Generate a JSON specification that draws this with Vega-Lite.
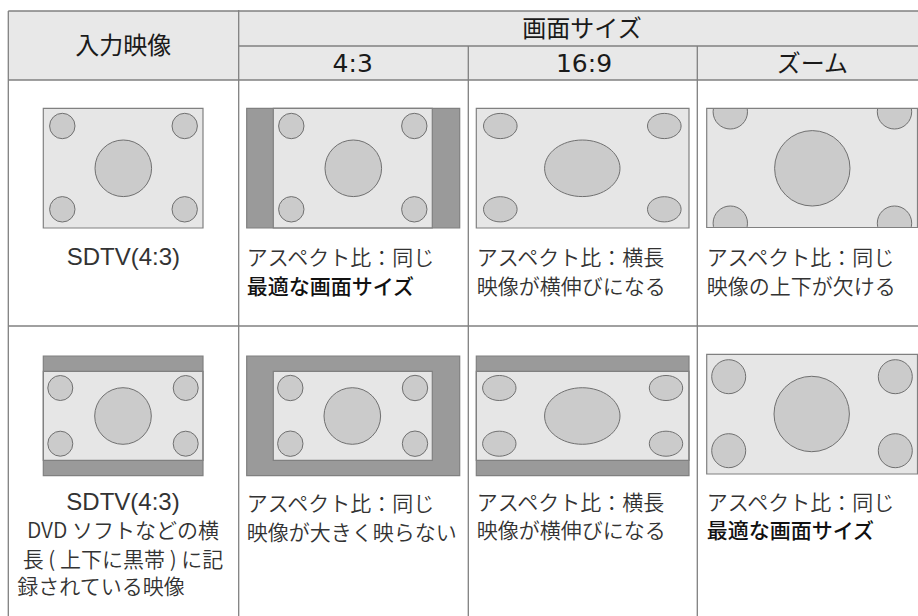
{
  "$schema": "https://vega.github.io/schema/vega-lite/v6.json",
  "width": 918,
  "height": 616,
  "autosize": {"type": "none"},
  "padding": 0,
  "background": "#ffffff",
  "config": {"view": {"stroke": null}},
  "datasets": {
    "panels": [
      {"x": 8.3, "x2": 918, "y": 11, "y2": 80, "kind": "header"},
      {"x": 43.3, "x2": 203, "y": 108.3, "y2": 228, "kind": "screen"},
      {"x": 246.7, "x2": 459.7, "y": 108.3, "y2": 228, "kind": "bar"},
      {"x": 273.3, "x2": 432.3, "y": 108.3, "y2": 228, "kind": "screen"},
      {"x": 476.3, "x2": 689, "y": 108.3, "y2": 228, "kind": "screen"},
      {"x": 706.7, "x2": 917.5, "y": 108.3, "y2": 227.5, "kind": "screen"},
      {"x": 43.3, "x2": 203, "y": 356, "y2": 475.7, "kind": "bar"},
      {"x": 43.3, "x2": 203, "y": 371.3, "y2": 460.3, "kind": "screen"},
      {"x": 246.7, "x2": 459.7, "y": 356, "y2": 475.7, "kind": "bar"},
      {"x": 273.3, "x2": 432.3, "y": 371.3, "y2": 460.3, "kind": "screen"},
      {"x": 476.3, "x2": 689, "y": 356, "y2": 475.7, "kind": "bar"},
      {"x": 476.3, "x2": 689, "y": 371.3, "y2": 460.3, "kind": "screen"},
      {"x": 706.7, "x2": 917.5, "y": 354.3, "y2": 474, "kind": "screen"}
    ],
    "discs": [
      {"cx": 62.3, "cy": 126, "r": 12.7, "form": "circle"},
      {"cx": 184.7, "cy": 126, "r": 12.7, "form": "circle"},
      {"cx": 62.3, "cy": 209.3, "r": 12.7, "form": "circle"},
      {"cx": 184.7, "cy": 209.3, "r": 12.7, "form": "circle"},
      {"cx": 123.3, "cy": 168.3, "r": 28.3, "form": "circle"},
      {"cx": 291.3, "cy": 126, "r": 12.7, "form": "circle"},
      {"cx": 414.3, "cy": 126, "r": 12.7, "form": "circle"},
      {"cx": 291.3, "cy": 209.3, "r": 12.7, "form": "circle"},
      {"cx": 414.3, "cy": 209.3, "r": 12.7, "form": "circle"},
      {"cx": 353.3, "cy": 168.3, "r": 28.3, "form": "circle"},
      {"cx": 500.3, "cy": 126, "r": 16.8, "form": "ellipse"},
      {"cx": 664.3, "cy": 126, "r": 16.8, "form": "ellipse"},
      {"cx": 500.3, "cy": 209.3, "r": 16.8, "form": "ellipse"},
      {"cx": 664.3, "cy": 209.3, "r": 16.8, "form": "ellipse"},
      {"cx": 582.3, "cy": 168.3, "r": 37.7, "form": "ellipse"},
      {"cx": 730.3, "cy": 111.8, "r": 17.2, "form": "circle"},
      {"cx": 894.5, "cy": 111.8, "r": 17.2, "form": "circle"},
      {"cx": 730.3, "cy": 223.2, "r": 17.2, "form": "circle"},
      {"cx": 894.5, "cy": 223.2, "r": 17.2, "form": "circle"},
      {"cx": 812.3, "cy": 168.3, "r": 37.7, "form": "circle"},
      {"cx": 60.3, "cy": 388, "r": 12.5, "form": "circle"},
      {"cx": 185.7, "cy": 388, "r": 12.5, "form": "circle"},
      {"cx": 60.3, "cy": 443.7, "r": 12.5, "form": "circle"},
      {"cx": 185.7, "cy": 443.7, "r": 12.5, "form": "circle"},
      {"cx": 123, "cy": 416, "r": 28.3, "form": "circle"},
      {"cx": 290.3, "cy": 388, "r": 12.7, "form": "circle"},
      {"cx": 415, "cy": 388, "r": 12.7, "form": "circle"},
      {"cx": 290.3, "cy": 443.7, "r": 12.7, "form": "circle"},
      {"cx": 415, "cy": 443.7, "r": 12.7, "form": "circle"},
      {"cx": 352.3, "cy": 416, "r": 28.3, "form": "circle"},
      {"cx": 499.3, "cy": 388, "r": 16.7, "form": "ellipse"},
      {"cx": 666, "cy": 388, "r": 16.7, "form": "ellipse"},
      {"cx": 499.3, "cy": 443.7, "r": 16.7, "form": "ellipse"},
      {"cx": 666, "cy": 443.7, "r": 16.7, "form": "ellipse"},
      {"cx": 582.3, "cy": 416, "r": 37.7, "form": "ellipse"},
      {"cx": 728.7, "cy": 376.7, "r": 17, "form": "circle"},
      {"cx": 895.3, "cy": 376.7, "r": 17, "form": "circle"},
      {"cx": 728.7, "cy": 450.7, "r": 17, "form": "circle"},
      {"cx": 895.3, "cy": 450.7, "r": 17, "form": "circle"},
      {"cx": 811.7, "cy": 414, "r": 37.7, "form": "circle"}
    ],
    "masks": [
      {"x": 698, "x2": 918, "y": 80.5, "y2": 108.3},
      {"x": 698, "x2": 918, "y": 227.5, "y2": 245}
    ],
    "grid": [
      {"x": 8.3, "y": 11, "x2": 918, "y2": 11},
      {"x": 238.7, "y": 46, "x2": 918, "y2": 46},
      {"x": 8.3, "y": 80, "x2": 918, "y2": 80},
      {"x": 8.3, "y": 326, "x2": 918, "y2": 326},
      {"x": 8.3, "y": 11, "x2": 8.3, "y2": 616},
      {"x": 238.7, "y": 10, "x2": 238.7, "y2": 616},
      {"x": 468.3, "y": 46, "x2": 468.3, "y2": 616},
      {"x": 697.3, "y": 46, "x2": 697.3, "y2": 616}
    ],
    "labels": [
      {"text": "入力映像", "x": 123.3, "y": 47, "role": "header"},
      {"text": "画面サイズ", "x": 582, "y": 30, "role": "header"},
      {"text": "4:3", "x": 352.7, "y": 64, "role": "headlatin"},
      {"text": "16:9", "x": 584, "y": 64, "role": "headlatin"},
      {"text": "ズーム", "x": 812.3, "y": 65, "role": "header"},
      {"text": "SDTV(4:3)", "x": 123.3, "y": 257.5, "role": "latin"},
      {"text": "SDTV(4:3)", "x": 123, "y": 502.5, "role": "latin"},
      {"text": "DVD ソフトなどの横", "x": 123, "y": 532, "role": "center"},
      {"text": "長 ( 上下に黒帯 ) に記", "x": 123, "y": 560.5, "role": "center"},
      {"text": "録されている映像", "x": 17.3, "y": 587.5, "role": "left"},
      {"text": "アスペクト比：同じ", "x": 246.7, "y": 258.5, "role": "left"},
      {"text": "アスペクト比：横長", "x": 476.7, "y": 258.5, "role": "left"},
      {"text": "映像が横伸びになる", "x": 476.7, "y": 287.5, "role": "left"},
      {"text": "アスペクト比：同じ", "x": 706.7, "y": 258.5, "role": "left"},
      {"text": "映像の上下が欠ける", "x": 706.7, "y": 287.5, "role": "left"},
      {"text": "アスペクト比：同じ", "x": 246.7, "y": 505, "role": "left"},
      {"text": "映像が大きく映らない", "x": 246.7, "y": 533.5, "role": "left"},
      {"text": "アスペクト比：横長", "x": 476.7, "y": 504, "role": "left"},
      {"text": "映像が横伸びになる", "x": 476.7, "y": 532, "role": "left"},
      {"text": "アスペクト比：同じ", "x": 706.7, "y": 504, "role": "left"},
      {"text": "最適な画面サイズ", "x": 246.7, "y": 287.5, "role": "bold"},
      {"text": "最適な画面サイズ", "x": 706.7, "y": 532, "role": "bold"}
    ]
  },
  "layer": [
    {
      "data": {"name": "panels"},
      "mark": {"type": "rect", "strokeWidth": 0},
      "encoding": {
        "x": {"field": "x", "type": "quantitative", "scale": {"domain": [0, 918], "nice": false, "zero": false}, "axis": null},
        "x2": {"field": "x2"},
        "y": {"field": "y", "type": "quantitative", "scale": {"domain": [0, 616], "nice": false, "zero": false, "reverse": true}, "axis": null},
        "y2": {"field": "y2"},
        "color": {"field": "kind", "type": "nominal", "scale": {"domain": ["header", "screen", "bar", "mask"], "range": ["#e8e8e8", "#e6e6e6", "#9a9a9a", "#ffffff"]}, "legend": null}
      }
    },
    {
      "data": {"name": "discs"},
      "mark": {"type": "point", "filled": true, "fill": "#cbcbcb", "stroke": "#707070", "strokeWidth": 1, "opacity": 1, "fillOpacity": 1, "strokeOpacity": 1},
      "encoding": {
        "x": {"field": "cx", "type": "quantitative", "scale": {"domain": [0, 918], "nice": false, "zero": false}, "axis": null},
        "y": {"field": "cy", "type": "quantitative", "scale": {"domain": [0, 616], "nice": false, "zero": false, "reverse": true}, "axis": null},
        "size": {"field": "r", "type": "quantitative", "scale": {"type": "pow", "exponent": 2, "domain": [0, 10], "range": [0, 400]}, "legend": null},
        "shape": {"field": "form", "type": "nominal", "scale": {"domain": ["circle", "ellipse"], "range": ["circle", "M1,0C1,0.4142,0.5523,0.75,0,0.75C-0.5523,0.75,-1,0.4142,-1,0C-1,-0.4142,-0.5523,-0.75,0,-0.75C0.5523,-0.75,1,-0.4142,1,0Z"]}, "legend": null}
      }
    },
    {
      "data": {"name": "masks"},
      "mark": {"type": "rect", "fill": "#ffffff", "strokeWidth": 0},
      "encoding": {
        "x": {"field": "x", "type": "quantitative", "scale": {"domain": [0, 918], "nice": false, "zero": false}, "axis": null},
        "x2": {"field": "x2"},
        "y": {"field": "y", "type": "quantitative", "scale": {"domain": [0, 616], "nice": false, "zero": false, "reverse": true}, "axis": null},
        "y2": {"field": "y2"}
      }
    },
    {
      "data": {"name": "panels"},
      "transform": [{"filter": "datum.kind !== 'header'"}],
      "mark": {"type": "rect", "fillOpacity": 0, "stroke": "#808080", "strokeWidth": 1.2},
      "encoding": {
        "x": {"field": "x", "type": "quantitative", "scale": {"domain": [0, 918], "nice": false, "zero": false}, "axis": null},
        "x2": {"field": "x2"},
        "y": {"field": "y", "type": "quantitative", "scale": {"domain": [0, 616], "nice": false, "zero": false, "reverse": true}, "axis": null},
        "y2": {"field": "y2"}
      }
    },
    {
      "data": {"name": "grid"},
      "mark": {"type": "rule", "stroke": "#808080", "strokeWidth": 1.3},
      "encoding": {
        "x": {"field": "x", "type": "quantitative", "scale": {"domain": [0, 918], "nice": false, "zero": false}, "axis": null},
        "x2": {"field": "x2"},
        "y": {"field": "y", "type": "quantitative", "scale": {"domain": [0, 616], "nice": false, "zero": false, "reverse": true}, "axis": null},
        "y2": {"field": "y2"}
      }
    },
    {
      "data": {"name": "labels"},
      "transform": [{"filter": "datum.role === 'header'"}],
      "mark": {"type": "text", "align": "center", "baseline": "middle", "fontSize": 24, "fontWeight": 400, "font": "Noto Sans CJK JP", "color": "#1a1a1a"},
      "encoding": {
        "x": {"field": "x", "type": "quantitative", "scale": {"domain": [0, 918], "nice": false, "zero": false}, "axis": null},
        "y": {"field": "y", "type": "quantitative", "scale": {"domain": [0, 616], "nice": false, "zero": false, "reverse": true}, "axis": null},
        "text": {"field": "text", "type": "nominal"}
      }
    },
    {
      "data": {"name": "labels"},
      "transform": [{"filter": "datum.role === 'headlatin'"}],
      "mark": {"type": "text", "align": "center", "baseline": "middle", "fontSize": 25, "fontWeight": 400, "font": "DejaVu Sans", "color": "#1a1a1a"},
      "encoding": {
        "x": {"field": "x", "type": "quantitative", "scale": {"domain": [0, 918], "nice": false, "zero": false}, "axis": null},
        "y": {"field": "y", "type": "quantitative", "scale": {"domain": [0, 616], "nice": false, "zero": false, "reverse": true}, "axis": null},
        "text": {"field": "text", "type": "nominal"}
      }
    },
    {
      "data": {"name": "labels"},
      "transform": [{"filter": "datum.role === 'latin'"}],
      "mark": {"type": "text", "align": "center", "baseline": "middle", "fontSize": 24, "fontWeight": 400, "font": "Liberation Sans", "color": "#333333"},
      "encoding": {
        "x": {"field": "x", "type": "quantitative", "scale": {"domain": [0, 918], "nice": false, "zero": false}, "axis": null},
        "y": {"field": "y", "type": "quantitative", "scale": {"domain": [0, 616], "nice": false, "zero": false, "reverse": true}, "axis": null},
        "text": {"field": "text", "type": "nominal"}
      }
    },
    {
      "data": {"name": "labels"},
      "transform": [{"filter": "datum.role === 'center'"}],
      "mark": {"type": "text", "align": "center", "baseline": "middle", "fontSize": 21, "fontWeight": 350, "font": "Noto Sans CJK JP", "color": "#333333"},
      "encoding": {
        "x": {"field": "x", "type": "quantitative", "scale": {"domain": [0, 918], "nice": false, "zero": false}, "axis": null},
        "y": {"field": "y", "type": "quantitative", "scale": {"domain": [0, 616], "nice": false, "zero": false, "reverse": true}, "axis": null},
        "text": {"field": "text", "type": "nominal"}
      }
    },
    {
      "data": {"name": "labels"},
      "transform": [{"filter": "datum.role === 'left'"}],
      "mark": {"type": "text", "align": "left", "baseline": "middle", "fontSize": 21, "fontWeight": 350, "font": "Noto Sans CJK JP", "color": "#333333"},
      "encoding": {
        "x": {"field": "x", "type": "quantitative", "scale": {"domain": [0, 918], "nice": false, "zero": false}, "axis": null},
        "y": {"field": "y", "type": "quantitative", "scale": {"domain": [0, 616], "nice": false, "zero": false, "reverse": true}, "axis": null},
        "text": {"field": "text", "type": "nominal"}
      }
    },
    {
      "data": {"name": "labels"},
      "transform": [{"filter": "datum.role === 'bold'"}],
      "mark": {"type": "text", "align": "left", "baseline": "middle", "fontSize": 21, "fontWeight": 500, "font": "Noto Sans CJK JP", "color": "#111111"},
      "encoding": {
        "x": {"field": "x", "type": "quantitative", "scale": {"domain": [0, 918], "nice": false, "zero": false}, "axis": null},
        "y": {"field": "y", "type": "quantitative", "scale": {"domain": [0, 616], "nice": false, "zero": false, "reverse": true}, "axis": null},
        "text": {"field": "text", "type": "nominal"}
      }
    }
  ]
}
